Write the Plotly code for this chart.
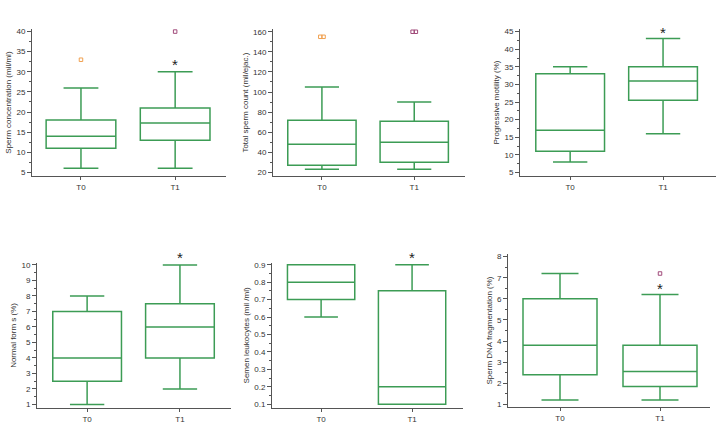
import plotly.graph_objects as go

W, H = 721, 438

groups = ["T0", "T1"]

titles = ["Sperm concentration (mil/ml)", "Total sperm count (mil/ejac.)",
          "Progressive motility (%)", "Normal form s (%)",
          "Semen leukocytes (mil /ml)", "Sperm DNA fragmentation (%)"]

# per panel: [T0, T1]
lower = [[6, 6], [23, 23], [8, 16], [1, 2], [0.6, 0.1], [1.2, 1.2]]
q1 = [[11, 13], [27, 30], [11, 25.5], [2.5, 4], [0.7, 0.1], [2.4, 1.85]]
median = [[14, 17.3], [48, 50], [17, 31], [4, 6], [0.8, 0.2], [3.8, 2.55]]
q3 = [[18, 21], [72, 71], [33, 35], [7, 7.5], [0.9, 0.75], [6.0, 3.8]]
upper = [[26, 30], [105, 90], [35, 43], [8, 10], [0.9, 0.9], [7.2, 6.2]]

# outliers: (panel, group, value, count)
outlier_panel = [0, 0, 1, 1, 5]
outlier_group = [0, 1, 0, 1, 1]
outlier_value = [33, 40, 155, 160, 7.2]
outlier_count = [1, 1, 2, 2, 1]

# significance asterisks: (panel, group, value)
star_panel = [0, 2, 3, 4, 5]
star_group = [1, 1, 1, 1, 1]
star_value = [32.1, 45.3, 10.55, 0.95, 6.55]

y_ranges = [[4.0, 40.7], [16, 163], [3.9, 45.8], [0.75, 10.15], [0.077, 0.912], [0.86, 8.14]]
y_dtick = [5, 20, 5, 1, 0.1, 1]

# pixel boxes (left, right, top, bottom)
boxes_px = [(32, 226, 27, 176), (273, 465, 27, 176), (520, 716, 27, 176),
            (37, 231, 263, 410), (272, 463, 263, 410), (508, 710, 254, 409)]
x_ranges = [[-0.52, 1.54], [-0.53, 1.55], [-0.54, 1.57], [-0.54, 1.55], [-0.54, 1.56], [-0.52, 1.5]]

GREEN = "#3c9c55"
AXC = "#555555"
TXT = "#333333"
FONT = "Arial, Liberation Sans, sans-serif"
out_colors = ["#f0a050", "#a04a7a"]

fig = go.Figure()
layout = dict(width=W, height=H, margin=dict(l=0, r=0, t=0, b=0),
              plot_bgcolor="white", paper_bgcolor="white", showlegend=False,
              font=dict(family=FONT, size=8, color=TXT))

annotations = []
for p in range(6):
    xa = "x" if p == 0 else f"x{p+1}"
    ya = "y" if p == 0 else f"y{p+1}"
    l, r, t, b = boxes_px[p]
    xkey = "xaxis" if p == 0 else f"xaxis{p+1}"
    ykey = "yaxis" if p == 0 else f"yaxis{p+1}"
    layout[xkey] = dict(domain=[l / W, r / W], range=x_ranges[p], anchor=ya,
                        tickvals=[0, 1], ticktext=groups, showgrid=False, zeroline=False,
                        showline=True, linecolor=AXC, linewidth=1, ticks="outside",
                        ticklen=3, tickcolor=AXC, tickfont=dict(size=8, color=TXT))
    layout[ykey] = dict(domain=[1 - b / H, 1 - t / H], range=y_ranges[p], anchor=xa,
                        dtick=y_dtick[p], tick0=0, showgrid=False, zeroline=False,
                        showline=True, linecolor=AXC, linewidth=1, ticks="outside",
                        ticklen=4, tickcolor=AXC, tickfont=dict(size=8, color=TXT),
                        minor=dict(ticks="outside", ticklen=2, dtick=y_dtick[p] / 2,
                                   tickcolor=AXC),
                        title=dict(text=titles[p], font=dict(size=8, color=TXT), standoff=3))
    for g in range(2):
        fig.add_trace(go.Box(x=[g], lowerfence=[lower[p][g]], q1=[q1[p][g]],
                             median=[median[p][g]], q3=[q3[p][g]], upperfence=[upper[p][g]],
                             width=0.74, whiskerwidth=0.5, fillcolor="rgba(0,0,0,0)",
                             line=dict(color=GREEN, width=1.5), boxpoints=False,
                             hoverinfo="skip", xaxis=xa, yaxis=ya))
    for i in range(len(outlier_panel)):
        if outlier_panel[i] != p:
            continue
        n = outlier_count[i]
        g = outlier_group[i]
        xs = [g + (k - (n - 1) / 2) * 0.035 for k in range(n)]
        fig.add_trace(go.Scatter(x=xs, y=[outlier_value[i]] * n, mode="markers",
                                 marker=dict(symbol="square-open", size=3.5,
                                             color=out_colors[g], line=dict(width=1)),
                                 cliponaxis=False, hoverinfo="skip", xaxis=xa, yaxis=ya))
    r0, r1 = y_ranges[p]
    for i in range(len(star_panel)):
        if star_panel[i] != p:
            continue
        annotations.append(dict(x=star_group[i], xref=xa,
                                y=(star_value[i] - r0) / (r1 - r0), yref=f"{ya} domain",
                                text="*", showarrow=False, yshift=9,
                                font=dict(size=15, color="#222222", family=FONT)))

layout["annotations"] = annotations
fig.update_layout(**layout)
fig.write_html("out.html", config={"displayModeBar": False},
               post_script="document.body.style.margin='0';document.body.style.overflow='hidden';")
